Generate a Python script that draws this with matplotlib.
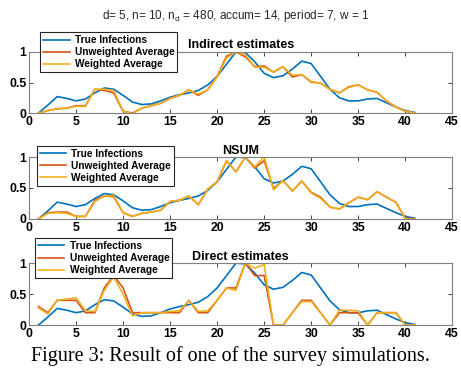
import numpy as np
import matplotlib.pyplot as plt

days = np.arange(1, 42)

true_inf = [0, 0.13, 0.27, 0.24, 0.2, 0.23, 0.33, 0.41, 0.39, 0.29, 0.18, 0.14, 0.15, 0.2,
            0.26, 0.3, 0.33, 0.37, 0.46, 0.6, 0.8, 1.0, 0.99, 0.84, 0.65, 0.58, 0.61, 0.72,
            0.85, 0.81, 0.6, 0.39, 0.25, 0.2, 0.2, 0.23, 0.24, 0.17, 0.1, 0.04, 0.01]

# Indirect estimates
ind_unw = [0, 0.04, 0.07, 0.08, 0.12, 0.12, 0.39, 0.37, 0.33, 0.03, 0, 0.08, 0.12, 0.16,
           0.24, 0.29, 0.38, 0.29, 0.38, 0.6, 0.93, 1.0, 0.92, 0.76, 0.77, 0.67, 0.76, 0.59,
           0.63, 0.51, 0.49, 0.39, 0.33, 0.43, 0.46, 0.38, 0.34, 0.2, 0.1, 0.03, 0]
ind_w = [0, 0.04, 0.07, 0.08, 0.11, 0.11, 0.39, 0.39, 0.37, 0.03, -0.01, 0.08, 0.12, 0.16,
         0.24, 0.29, 0.38, 0.31, 0.38, 0.59, 0.9, 1.0, 0.95, 0.75, 0.75, 0.67, 0.76, 0.62,
         0.63, 0.5, 0.49, 0.39, 0.33, 0.42, 0.46, 0.38, 0.34, 0.2, 0.1, 0.03, 0]

# NSUM
nsum_unw = [0, 0.1, 0.11, 0.11, 0.04, 0.04, 0.3, 0.37, 0.36, 0.1, 0.04, 0.09, 0.11, 0.14,
            0.28, 0.3, 0.37, 0.23, 0.48, 0.6, 0.94, 0.76, 1.0, 0.82, 0.94, 0.49, 0.62, 0.45,
            0.61, 0.43, 0.35, 0.19, 0.16, 0.26, 0.35, 0.31, 0.44, 0.35, 0.27, 0.01, 0]
nsum_w = [0, 0.09, 0.1, 0.09, 0.04, 0.04, 0.28, 0.37, 0.38, 0.1, 0.04, 0.09, 0.11, 0.14,
          0.28, 0.3, 0.37, 0.23, 0.48, 0.6, 0.94, 0.76, 1.0, 0.84, 1.0, 0.47, 0.62, 0.45,
          0.61, 0.42, 0.33, 0.19, 0.16, 0.26, 0.35, 0.31, 0.44, 0.35, 0.27, 0, -0.01]

# Direct estimates
dir_unw = [0.3, 0.2, 0.4, 0.4, 0.4, 0.2, 0.2, 0.6, 0.8, 0.6, 0.2, 0.2, 0.2, 0.2,
           0.2, 0.2, 0.4, 0.2, 0.2, 0.4, 0.6, 0.6, 1.0, 0.8, 0.8, 0, 0, 0.2,
           0.4, 0.4, 0.2, 0, 0.2, 0.2, 0.2, 0, 0.2, 0.2, 0.2, 0, 0]
dir_w = [0.28, 0.18, 0.4, 0.42, 0.44, 0.23, 0.22, 0.56, 0.78, 0.5, 0.15, 0.2, 0.2, 0.2,
         0.22, 0.23, 0.4, 0.22, 0.23, 0.4, 0.6, 0.56, 1.0, 0.92, 0.98, 0, 0, 0.2,
         0.38, 0.38, 0.2, 0, 0.24, 0.24, 0.23, 0, 0.2, 0.2, 0.2, 0, 0]

titles = ['Indirect estimates', 'NSUM', 'Direct estimates']
series = [(ind_unw, ind_w), (nsum_unw, nsum_w), (dir_unw, dir_w)]
labels = ['True Infections', 'Unweighted Average', 'Weighted Average']
colors = ['#0072BD', '#D95319', '#EDB120']

plt.rcParams['font.family'] = ['Liberation Sans', 'DejaVu Sans']

fig = plt.figure(figsize=(4.61, 3.82), dpi=100)

# axes boxes in figure fractions: (left, bottom, width, height)
boxes = [(0.063, 0.704, 0.918, 0.160),
         (0.063, 0.427, 0.918, 0.162),
         (0.063, 0.149, 0.918, 0.162)]
leg_anchor = [(0.087, 0.916), (0.080, 0.618), (0.076, 0.377)]

for i in range(3):
    ax = fig.add_axes(boxes[i])
    unw, w = series[i]
    ax.plot(days, true_inf, color=colors[0], lw=1.2, label=labels[0])
    ax.plot(days, unw, color=colors[1], lw=1.2, label=labels[1])
    ax.plot(days, w, color=colors[2], lw=1.2, label=labels[2])
    ax.set_xlim(0, 45)
    ax.set_ylim(0, 1)
    ax.set_xticks(range(0, 46, 5))
    ax.set_yticks([0, 0.5, 1])
    ax.set_yticklabels(['0', '0.5', '1'])
    ax.tick_params(direction='in', top=True, right=True, length=3, width=0.6,
                   labelsize=8.8, pad=2, color='#262626')
    for lab in ax.get_xticklabels() + ax.get_yticklabels():
        lab.set_fontweight('bold')
    for sp in ax.spines.values():
        sp.set_color('#7f7f7f')
        sp.set_linewidth(0.8)
    ax.set_title(titles[i], fontsize=9, fontweight='bold', pad=2.5)
    leg = fig.legend(*ax.get_legend_handles_labels(), loc='upper left',
                     bbox_to_anchor=leg_anchor[i], fancybox=False, framealpha=1,
                     edgecolor='#262626', prop={'size': 7.3, 'weight': 'bold'},
                     handlelength=2.6, handletextpad=0.5, borderpad=0.3,
                     labelspacing=0.2, borderaxespad=0)
    leg.get_frame().set_linewidth(0.8)

fig.text(0.512, 0.958, 'd= 5, n= 10, n$_{\\mathregular{d}}$ = 480, accum= 14, period= 7, w = 1',
         ha='center', va='center', fontsize=8.5, color='#262626')
fig.text(0.5, 0.068, 'Figure 3: Result of one of the survey simulations.',
         ha='center', va='center', fontsize=14.5, family='Liberation Serif')

plt.savefig('out.png', dpi=100)
